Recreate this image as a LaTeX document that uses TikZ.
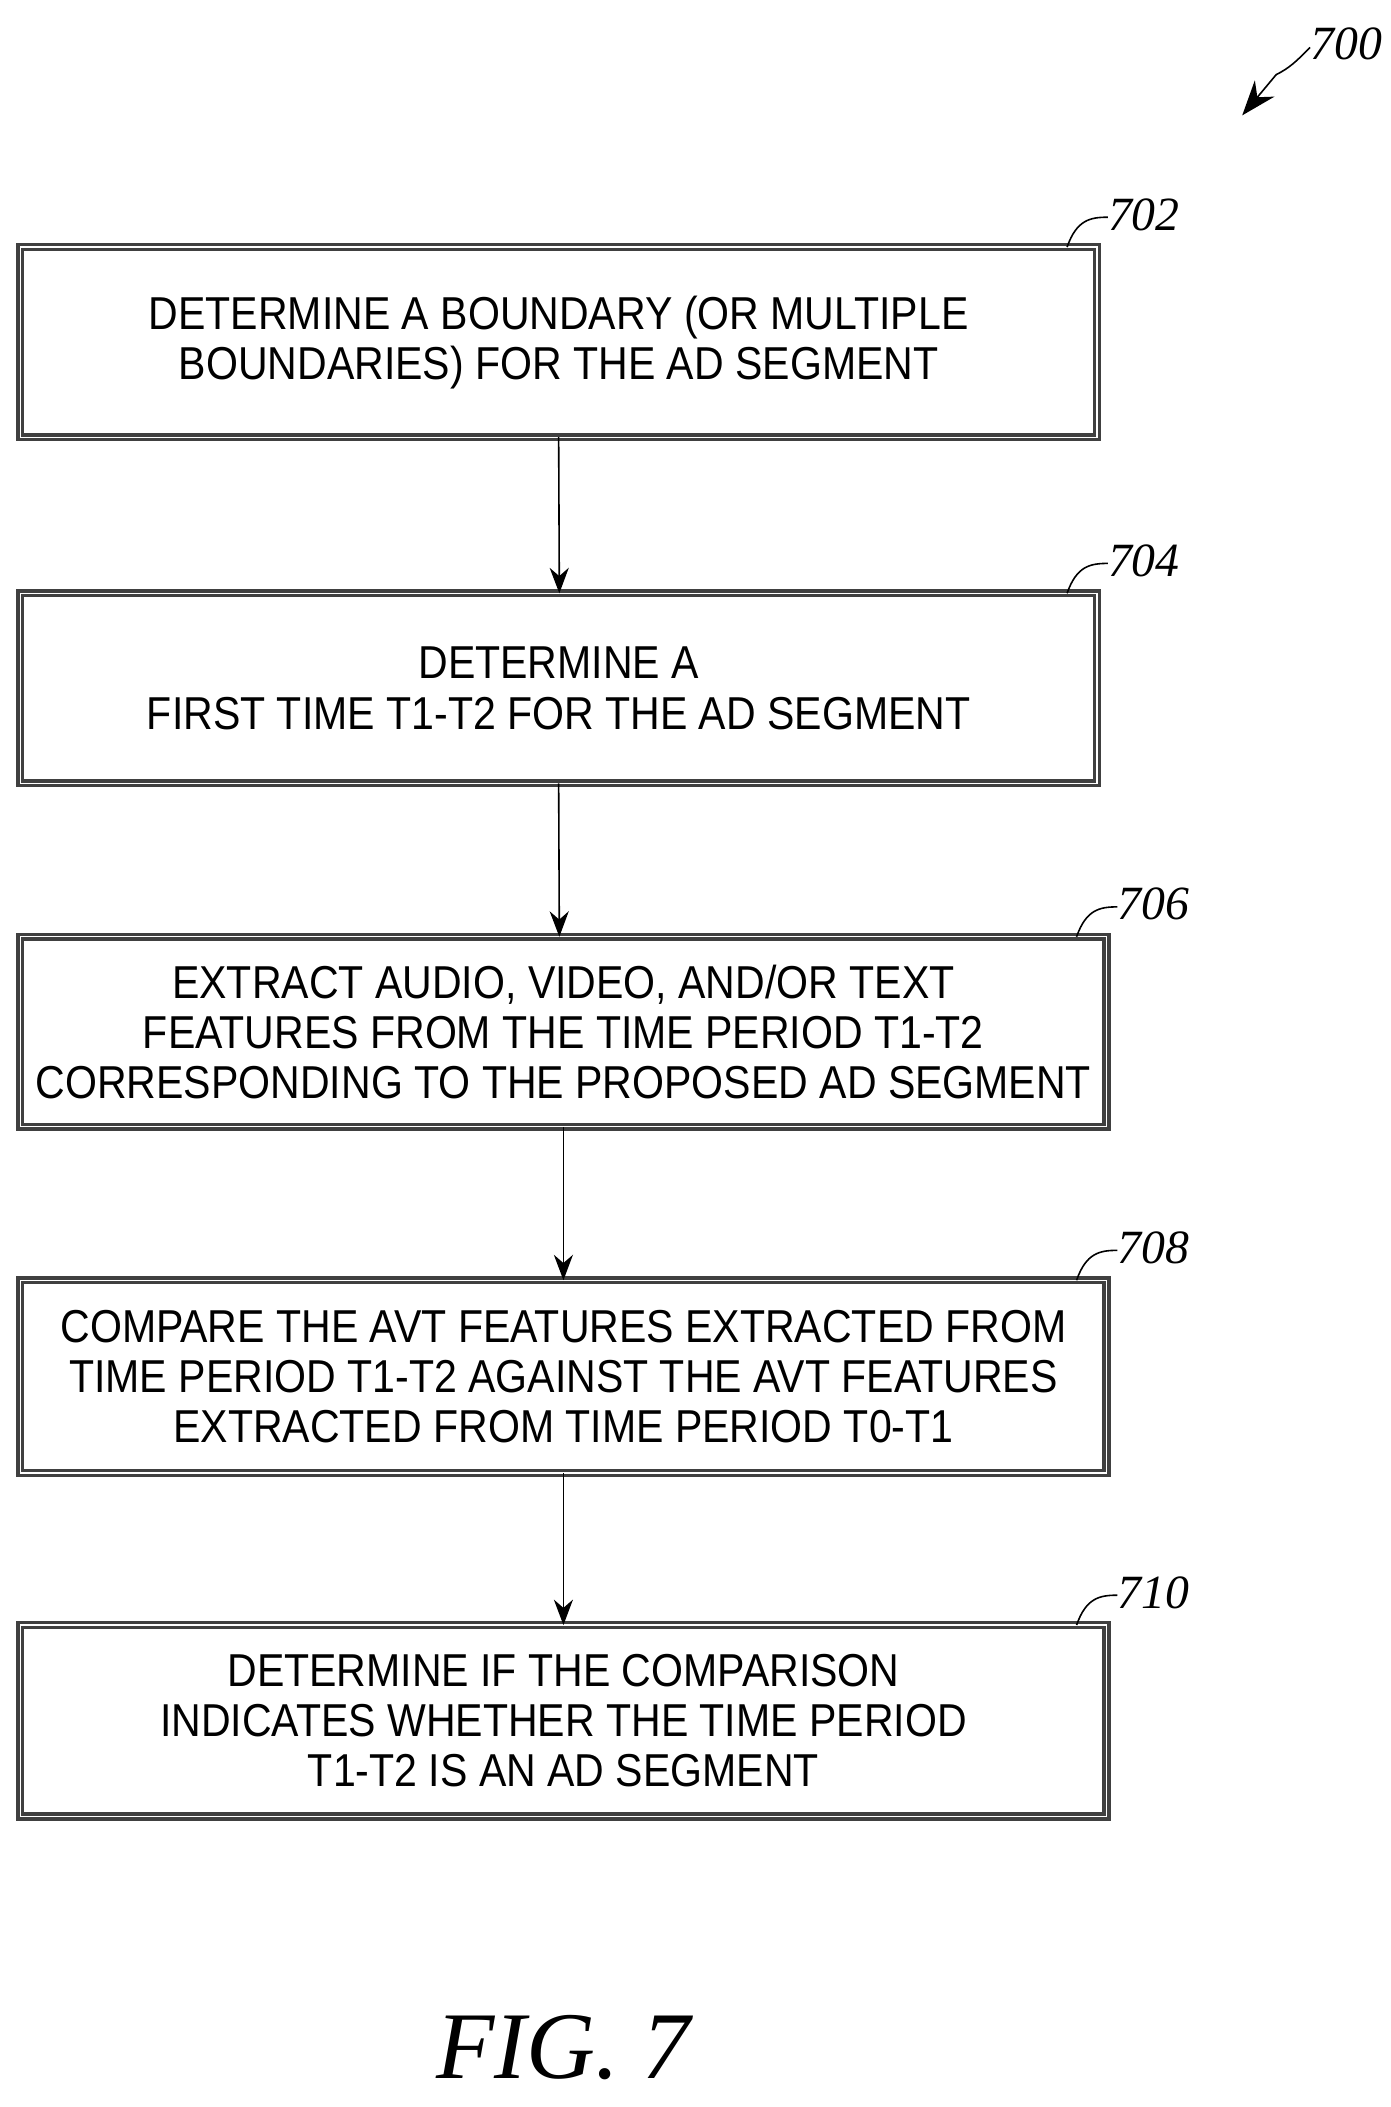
\documentclass[tikz,border=0pt]{standalone}
\usepackage{fontspec}
\setmainfont[FakeStretch=0.89]{Liberation Sans}
\newfontfamily\figfont{Liberation Serif}
\usetikzlibrary{arrows.meta}
\begin{document}
\begin{tikzpicture}[x=0.03cm,y=-0.03cm,
  box/.style={draw=black!75,line width=2.2pt,double=white,double distance=0.8pt,inner sep=0pt},
  txt/.style={font=\fontsize{29}{31.5}\selectfont,align=center,inner sep=0pt},
  arr/.style={line width=1pt,-{Stealth[length=16pt,width=12pt]}},
  lbl/.style={font=\figfont\itshape\fontsize{30}{36}\selectfont,inner sep=0pt},
  lead/.style={line width=1pt}]
\useasboundingbox (0,0) rectangle (1024,1552);
\newcommand{\stepbox}[7]{%
  \draw[box] (#2,#3) rectangle (#4,#5);
  \node[txt] (#1) at ({(#2+#4)/2},{(#3+#5)/2}) {#6};
  \coordinate (#1n) at ({(#2+#4)/2},#3);
  \coordinate (#1s) at ({(#2+#4)/2},#5);
  \draw[lead] (#4-22,#3) .. controls (#4-15,#3-20) and (#4-5,#3-22) .. (#4+8,#3-22);
  \node[lbl,anchor=west] at (#4+8,#3-24) {#7};}
\stepbox{b1}{15}{182}{808}{322}{DETERMINE A BOUNDARY (OR MULTIPLE\\BOUNDARIES) FOR THE AD SEGMENT}{702}
\stepbox{b2}{15}{437}{808}{577}{DETERMINE A\\FIRST TIME T1-T2 FOR THE AD SEGMENT}{704}
\stepbox{b3}{15}{690}{815}{830}{EXTRACT AUDIO, VIDEO, AND/OR TEXT\\FEATURES FROM THE TIME PERIOD T1-T2\\CORRESPONDING TO THE PROPOSED AD SEGMENT}{706}
\stepbox{b4}{15}{943}{815}{1085}{COMPARE THE AVT FEATURES EXTRACTED FROM\\TIME PERIOD T1-T2 AGAINST THE AVT FEATURES\\EXTRACTED FROM TIME PERIOD T0-T1}{708}
\stepbox{b5}{15}{1197}{815}{1338}{DETERMINE IF THE COMPARISON\\INDICATES WHETHER THE TIME PERIOD\\T1-T2 IS AN AD SEGMENT}{710}
\draw[arr] (b1s) -- (412,437);
\draw[arr] (b2s) -- (412,690);
\draw[arr] (415,830) -- (415,943);
\draw[arr] (415,1085) -- (415,1197);
\node[lbl,anchor=west] (n700) at (965,32) {700};
\draw[line width=1pt,-{Stealth[length=22pt,width=16pt]}] (965,35) .. controls (955,45) and (950,50) .. (940,55) -- (915,85);
\node[font=\figfont\itshape\fontsize{60}{66}\selectfont] (fig) at (415,1508) {FIG. 7};
\end{tikzpicture}
\end{document}
